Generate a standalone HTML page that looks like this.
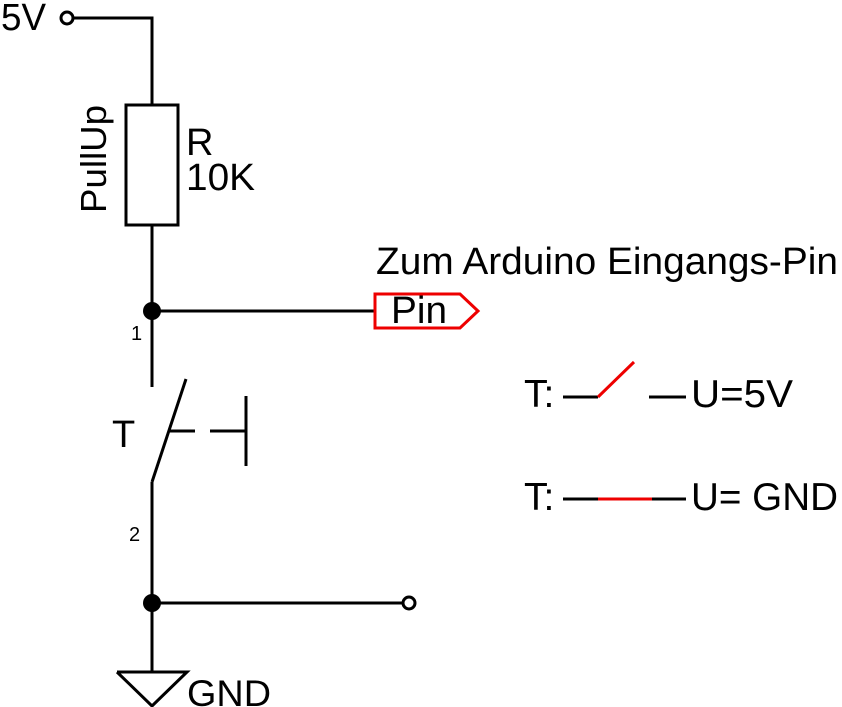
<!DOCTYPE html>
<html><head><meta charset="utf-8"><style>
html,body{margin:0;padding:0;background:#fff;}
svg{display:block;}
text{font-family:"Liberation Sans",Arial,sans-serif;fill:#000;}
</style></head><body>
<svg width="842" height="707" viewBox="0 0 842 707" xmlns="http://www.w3.org/2000/svg">
<g stroke="#000" stroke-width="3" fill="none">
<circle cx="67" cy="18" r="6" fill="#fff"/>
<polyline points="73,18 152,18 152,105"/>
<rect x="126" y="105" width="52" height="120"/>
<line x1="152" y1="225" x2="152" y2="387"/>
<line x1="152" y1="311" x2="374" y2="311"/>
<line x1="186" y1="379" x2="152" y2="482"/>
<line x1="170" y1="431" x2="195" y2="431"/>
<line x1="210" y1="431" x2="246" y2="431"/>
<line x1="246" y1="396" x2="246" y2="466"/>
<line x1="152" y1="482" x2="152" y2="671"/>
<line x1="152" y1="603" x2="403" y2="603"/>
<circle cx="409" cy="603" r="6" fill="#fff"/>
<polyline points="117,672 187,672 152,706 117,672"/>
<line x1="563" y1="397" x2="598" y2="397"/>
<line x1="649" y1="397" x2="686" y2="397"/>
<line x1="563" y1="499" x2="598" y2="499"/>
<line x1="652" y1="499" x2="686" y2="499"/>
</g>
<circle cx="152" cy="311" r="9" fill="#000"/>
<circle cx="152" cy="603" r="9" fill="#000"/>
<g stroke="#e00" stroke-width="3" fill="none">
<polygon points="375,294 460,294 478,311 460,328 375,328"/>
<line x1="598" y1="397" x2="634" y2="362"/>
<line x1="598" y1="499" x2="652" y2="499"/>
</g>
<text x="1" y="30" font-size="38" textLength="45" lengthAdjust="spacingAndGlyphs">5V</text>
<text x="186" y="155" font-size="38">R</text>
<text x="186" y="190" font-size="38" textLength="69" lengthAdjust="spacingAndGlyphs">10K</text>
<text transform="translate(106,213) rotate(-90)" font-size="36" textLength="108" lengthAdjust="spacingAndGlyphs">PullUp</text>
<text x="376" y="274" font-size="38" textLength="462" lengthAdjust="spacingAndGlyphs">Zum Arduino Eingangs-Pin</text>
<text x="391" y="323" font-size="38" textLength="56" lengthAdjust="spacingAndGlyphs">Pin</text>
<text x="131" y="340" font-size="20">1</text>
<text x="129" y="541" font-size="20">2</text>
<text x="112" y="447" font-size="38">T</text>
<text x="187" y="706" font-size="37" textLength="84" lengthAdjust="spacingAndGlyphs">GND</text>
<text x="524" y="407" font-size="39">T:</text>
<text x="691" y="407" font-size="39" textLength="102" lengthAdjust="spacingAndGlyphs">U=5V</text>
<text x="524" y="510" font-size="39">T:</text>
<text x="691" y="510" font-size="39" textLength="147" lengthAdjust="spacingAndGlyphs">U= GND</text>
</svg>
</body></html>
